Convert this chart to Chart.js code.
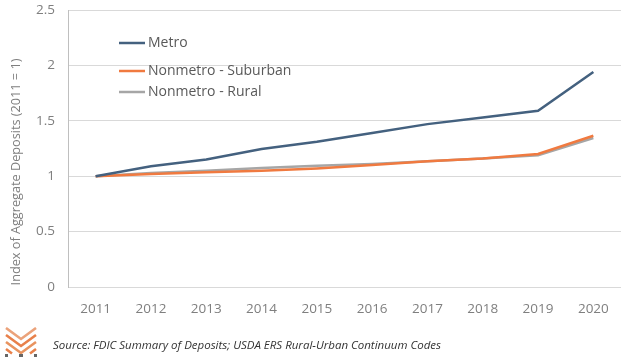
<!DOCTYPE html>
<html>
<head>
<meta charset="utf-8">
<script src="https://cdn.jsdelivr.net/npm/chart.js@4.4.1/dist/chart.umd.min.js"></script>
<style>
  html, body { margin: 0; padding: 0; background: #fff; }
  #wrap { position: relative; width: 624px; height: 360px; overflow: hidden; }
  #c { position: absolute; left: 0; top: 0; }
  #src { position: absolute; left: 53px; top: 337px; font-family: "Open Sans", sans-serif; font-style: italic; font-size: 11.5px; color: #333; white-space: nowrap; }
  #logo { position: absolute; left: 5px; top: 327px; }
</style>
</head>
<body>
<div id="wrap">
  <canvas id="c" width="624" height="360"></canvas>
  <svg id="logo" width="32" height="30" viewBox="0 0 32 30">
    <g stroke-width="2.6" fill="none" stroke-linecap="butt">
      <polyline points="1,1 16,12 31,1" stroke="#eba27a"/>
      <polyline points="1,8 16,19 31,8" stroke="#e8804a"/>
      <polyline points="1,15 16,26 31,15" stroke="#e8935f"/>
      <polyline points="1,22 7,26.5" stroke="#e8804a"/>
      <polyline points="31,22 25,26.5" stroke="#e8804a"/>
    </g>
    <g fill="#666">
      <rect x="0" y="27" width="3" height="3"/>
      <rect x="29" y="27" width="3" height="3"/>
      <rect x="14" y="27" width="4" height="3"/>
    </g>
  </svg>
  <div id="src">Source: FDIC Summary of Deposits; USDA ERS Rural-Urban Continuum Codes</div>
</div>
<script>
const years = ["2011","2012","2013","2014","2015","2016","2017","2018","2019","2020"];
const metro = [1.00, 1.09, 1.15, 1.245, 1.31, 1.39, 1.47, 1.53, 1.59, 1.94];
const suburban = [1.00, 1.02, 1.035, 1.05, 1.07, 1.10, 1.135, 1.16, 1.20, 1.365];
const rural = [1.00, 1.03, 1.05, 1.075, 1.095, 1.11, 1.135, 1.16, 1.19, 1.345];
const seriesNames = ["Metro", "Nonmetro - Suburban", "Nonmetro - Rural"];
const yTicks = [0, 0.5, 1, 1.5, 2, 2.5];
const yTitle = 'Index of Aggregate Deposits (2011 = 1)';

const colors = ["#44617f", "#f07a40", "#a6a6a6"];

const legendPlugin = {
  id: 'customLegend',
  afterDraw(chart) {
    const ctx = chart.ctx;
    const ys = [43, 71, 92];
    ctx.save();
    ctx.font = '14px "Open Sans", sans-serif';
    ctx.textBaseline = 'middle';
    chart.data.datasets.forEach((ds, i) => {
      ctx.strokeStyle = ds.borderColor;
      ctx.lineWidth = 2.5;
      ctx.beginPath();
      ctx.moveTo(119, ys[i]);
      ctx.lineTo(145, ys[i]);
      ctx.stroke();
      ctx.fillStyle = '#595959';
      ctx.fillText(ds.label, 148, ys[i]);
    });
    // y-axis title
    ctx.translate(16, 172);
    ctx.rotate(-Math.PI / 2);
    ctx.textAlign = 'center';
    ctx.font = '12.7px "Open Sans", sans-serif';
    ctx.fillStyle = '#7f7f7f';
    ctx.fillText(yTitle, 0, 0);
    ctx.restore();
  }
};

new Chart(document.getElementById('c'), {
  type: 'line',
  data: {
    labels: years,
    datasets: [
      { label: seriesNames[0], data: metro, borderColor: colors[0], backgroundColor: colors[0] },
      { label: seriesNames[1], data: suburban, borderColor: colors[1], backgroundColor: colors[1] },
      { label: seriesNames[2], data: rural, borderColor: colors[2], backgroundColor: colors[2] }
    ]
  },
  options: {
    responsive: false,
    animation: false,
    devicePixelRatio: 1,
    layout: { padding: { top: 10, right: 3, left: 0, bottom: 0 } },
    elements: {
      line: { borderWidth: 2.5, tension: 0 },
      point: { radius: 0 }
    },
    plugins: {
      legend: { display: false },
      tooltip: { enabled: false }
    },
    scales: {
      x: {
        offset: true,
        grid: { display: false, drawTicks: false },
        border: { display: false },
        ticks: { color: '#7f7f7f', font: { family: '"Open Sans", sans-serif', size: 13.5 }, padding: 14, maxRotation: 0 },
        afterFit(s) { s.height = 73; s.paddingLeft = 0; s.paddingRight = 0; }
      },
      y: {
        min: 0, max: 2.5,
        afterBuildTicks(s) { s.ticks = yTicks.map(v => ({ value: v })); },
        grid: { color: '#d9d9d9', lineWidth: 1, drawTicks: false },
        border: { display: true, color: '#bfbfbf', width: 1 },
        ticks: { color: '#7f7f7f', font: { family: '"Open Sans", sans-serif', size: 13.5 }, padding: 13,
          callback: v => String(v) },
        afterFit(s) { s.width = 68; s.paddingTop = 0; s.paddingBottom = 0; }
      }
    }
  },
  plugins: [legendPlugin]
});
</script>
</body>
</html>
